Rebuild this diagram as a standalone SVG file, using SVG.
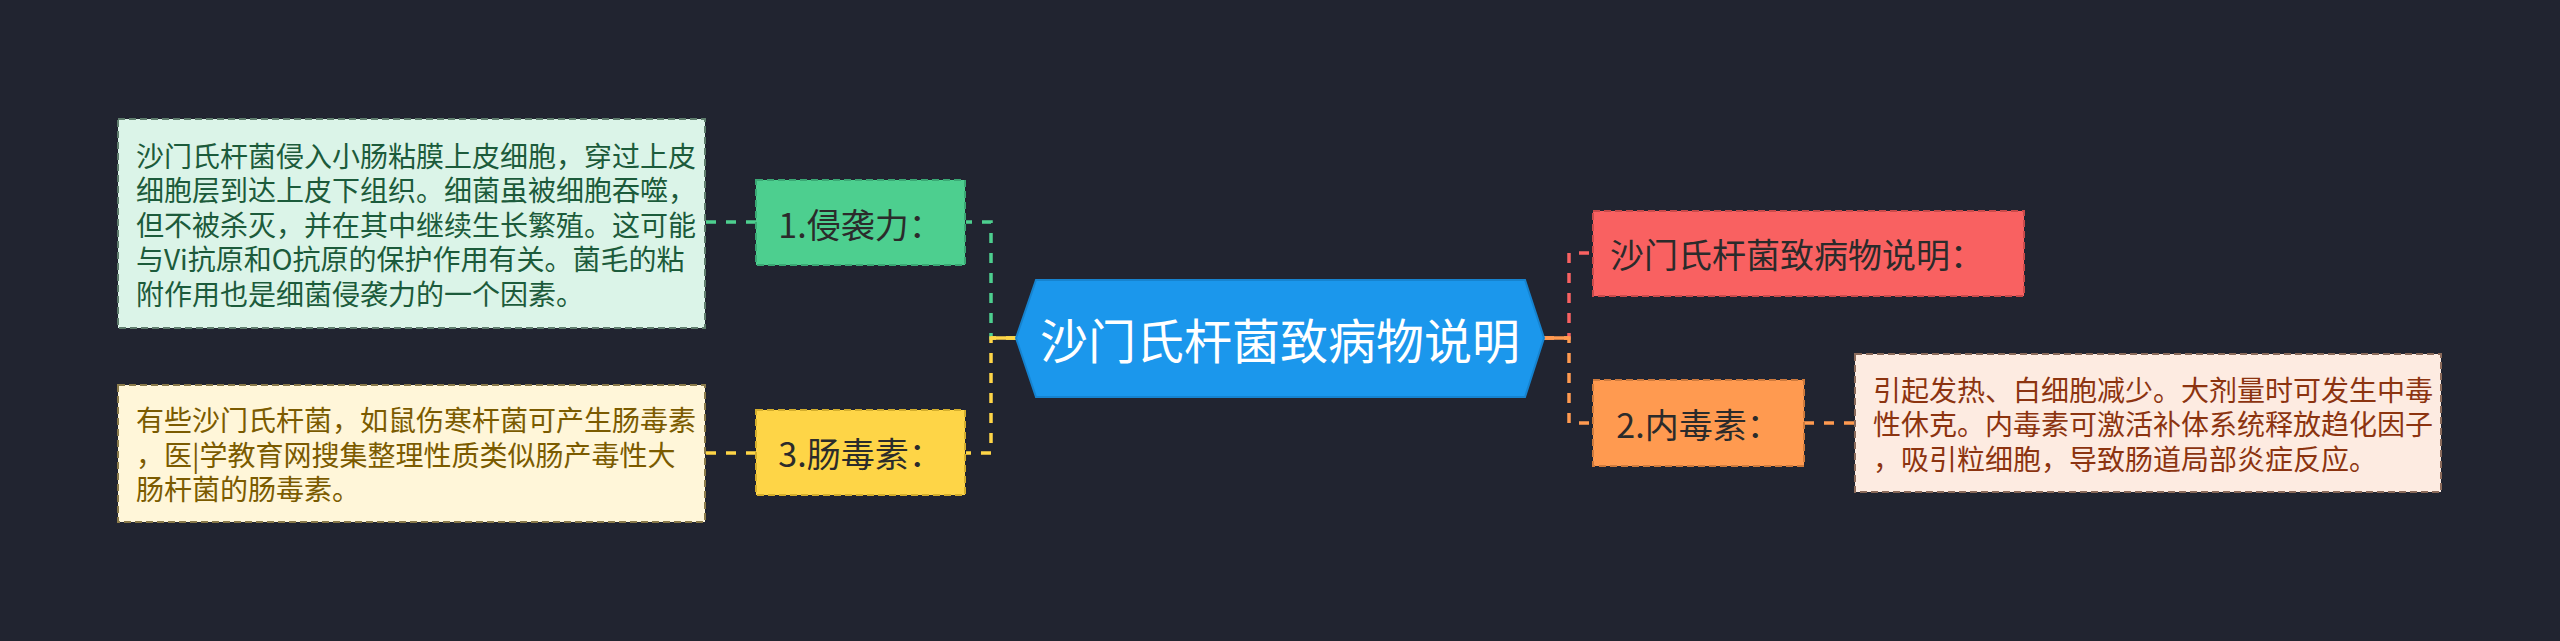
<svg xmlns="http://www.w3.org/2000/svg" width="2560" height="641" viewBox="0 0 2560 641">
<style>
text{font-family:"Noto Sans CJK SC","Noto Sans",sans-serif;}
.nt{font-size:34px;fill:#2b2b2b;text-anchor:middle;dominant-baseline:central;}
.ns{text-anchor:start;}
.dt{font-size:28px;dominant-baseline:central;}
.conn{fill:none;stroke-width:3.5;stroke-dasharray:10 10;}
.box{stroke-width:2;stroke-dasharray:7 4;}
</style>
<rect x="0" y="0" width="2560" height="641" fill="#212430"/>
<g id="connectors">
  <path class="conn" d="M1016 338 H991 V222 H966" stroke="#4dcf8f"/>
  <path class="conn" d="M1016 338 H991 V453 H966" stroke="#fed547"/>
  <path d="M991 338 H1016" stroke="#fed547" stroke-width="3.5"/>
  <path class="conn" d="M1544 338 H1569 V253 H1593" stroke="#f96161"/>
  <path class="conn" d="M1544 338 H1569 V423 H1593" stroke="#ff9a50"/>
  <path d="M1544 338 H1569" stroke="#ff9a50" stroke-width="3.5"/>
  <path class="conn" d="M756 222 H705" stroke="#4dcf8f"/>
  <path class="conn" d="M756 453 H705" stroke="#fed547"/>
  <path class="conn" d="M1804 423 H1855" stroke="#ff9a50"/>
</g>
<g id="root">
  <polygon points="1016,338 1036,280 1525,280 1544,338 1525,397 1036,397" fill="#1b97ec" stroke="#1683cf" stroke-width="2"/>
  <text x="1280" y="338" font-size="48" fill="#ffffff" text-anchor="middle" dominant-baseline="central">沙门氏杆菌致病物说明</text>
</g>
<g id="n1">
  <rect class="box" x="756" y="180" width="209" height="85" fill="#4dcf8f" stroke="#3aa874"/>
  <text class="nt" x="860.5" y="223">1.侵袭力：</text>
</g>
<g id="n3">
  <rect class="box" x="756" y="410" width="209" height="85" fill="#fed547" stroke="#d4ae2c"/>
  <text class="nt" x="860.5" y="452">3.肠毒素：</text>
</g>
<g id="n0">
  <rect class="box" x="1593" y="211" width="431" height="85" fill="#f96161" stroke="#c94a4a"/>
  <text class="nt ns" x="1610" y="253">沙门氏杆菌致病物说明：</text>
</g>
<g id="n2">
  <rect class="box" x="1593" y="380" width="211" height="86" fill="#ff9a50" stroke="#cf7a3c"/>
  <text class="nt" x="1698.5" y="423">2.内毒素：</text>
</g>
<g id="d1">
  <rect class="box" x="118" y="119" width="587" height="209" fill="#dbf4e8" stroke="#5f7d6d"/>
  <text class="dt" fill="#1c5b3b">
    <tspan x="136" y="154.5">沙门氏杆菌侵入小肠粘膜上皮细胞，穿过上皮</tspan>
    <tspan x="136" y="189">细胞层到达上皮下组织。细菌虽被细胞吞噬，</tspan>
    <tspan x="136" y="223.5">但不被杀灭，并在其中继续生长繁殖。这可能</tspan>
    <tspan x="136" y="258">与Vi抗原和O抗原的保护作用有关。菌毛的粘</tspan>
    <tspan x="136" y="292.5">附作用也是细菌侵袭力的一个因素。</tspan>
  </text>
</g>
<g id="d3">
  <rect class="box" x="118" y="385" width="587" height="137" fill="#fff6d9" stroke="#8a7a4a"/>
  <text class="dt" fill="#7b5b00">
    <tspan x="136" y="419">有些沙门氏杆菌，如鼠伤寒杆菌可产生肠毒素</tspan>
    <tspan x="136" y="453.5">，医|学教育网搜集整理性质类似肠产毒性大</tspan>
    <tspan x="136" y="488">肠杆菌的肠毒素。</tspan>
  </text>
</g>
<g id="d2">
  <rect class="box" x="1855" y="354" width="586" height="138" fill="#fdebe1" stroke="#8a6a5a"/>
  <text class="dt" fill="#8c3410">
    <tspan x="1873" y="388.5">引起发热、白细胞减少。大剂量时可发生中毒</tspan>
    <tspan x="1873" y="423">性休克。内毒素可激活补体系统释放趋化因子</tspan>
    <tspan x="1873" y="457.5">，吸引粒细胞，导致肠道局部炎症反应。</tspan>
  </text>
</g>
</svg>
